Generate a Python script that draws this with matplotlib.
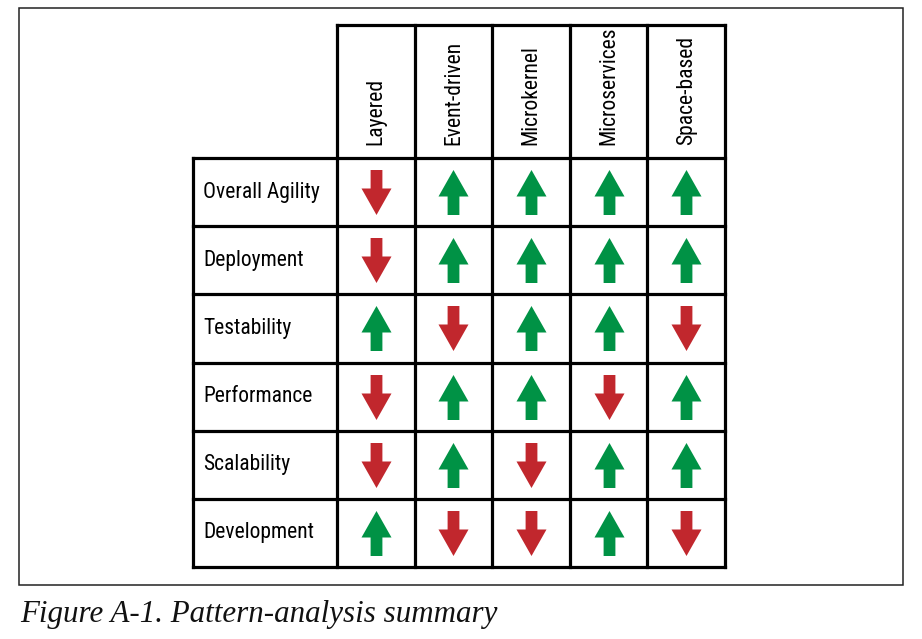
import matplotlib
matplotlib.use("Agg")
import matplotlib.pyplot as plt
from matplotlib import font_manager as fm
from matplotlib.path import Path
from matplotlib.patches import Rectangle

# ---------------- data ----------------
patterns = ["Layered", "Event-driven", "Microkernel", "Microservices", "Space-based"]
criteria = ["Overall Agility", "Deployment", "Testability", "Performance",
            "Scalability", "Development"]
# +1 = up (good), -1 = down (poor)
ratings = [
    [-1, 1, 1, 1, 1],
    [-1, 1, 1, 1, 1],
    [1, -1, 1, 1, -1],
    [-1, 1, 1, -1, 1],
    [-1, 1, -1, 1, 1],
    [1, -1, -1, 1, -1],
]
caption = "Figure A-1. Pattern-analysis summary"

# ---------------- fonts ----------------
available = {f.name for f in fm.fontManager.ttflist}
narrow = "DejaVu Sans"
for cand in ["Liberation Sans Narrow", "DejaVu Sans Condensed", "Roboto Condensed",
             "Open Sans Condensed", "Noto Sans"]:
    if cand in available:
        narrow = cand
        break
serif = "Liberation Serif" if "Liberation Serif" in available else "DejaVu Serif"

W, H, DPI = 922, 639, 100
fig = plt.figure(figsize=(W / DPI, H / DPI), dpi=DPI)
fig.patch.set_facecolor("white")

# outer frame (figure pixel coords)
frame = Rectangle((19 / W, 1 - 585 / H), (903 - 19) / W, (585 - 8) / H,
                  transform=fig.transFigure, fill=False, edgecolor="#222222",
                  linewidth=1.1)
fig.patches.append(frame)

# caption
fig.text(20 / W, 1 - 622 / H, caption, fontsize=22.3, family=serif,
         style="italic", va="baseline", ha="left", color="#111111")

# table body axes: x in columns, y in rows
left, right, top, bottom = 337, 725, 158, 567
ax = fig.add_axes([left / W, 1 - bottom / H, (right - left) / W, (bottom - top) / H])
ncol, nrow = len(patterns), len(criteria)
ax.set_xlim(0, ncol)
ax.set_ylim(nrow, 0)
ax.axis("off")

col_w = (right - left) / ncol
row_h = (bottom - top) / nrow
x_lab = -(left - 193) / col_w
y_head = -(top - 25) / row_h

lw = 2.3
kw = dict(color="black", linewidth=lw, clip_on=False, solid_capstyle="projecting")
# vertical lines of the pattern columns (incl. header)
for j in range(ncol + 1):
    ax.plot([j, j], [y_head, nrow], **kw)
# header top
ax.plot([0, ncol], [y_head, y_head], **kw)
# horizontal row lines incl. label column
for i in range(nrow + 1):
    ax.plot([x_lab, ncol], [i, i], **kw)
# label column left edge
ax.plot([x_lab, x_lab], [0, nrow], **kw)

fs = 15.5
# header texts
for j, p in enumerate(patterns):
    ax.text(j + 0.5, -13 / row_h, p, rotation=90, ha="center", va="bottom",
            fontsize=fs, family=narrow, color="black", clip_on=False)

# row labels
for i, c in enumerate(criteria):
    ax.text(x_lab + 10 / col_w, i + 0.5, c, ha="left", va="center",
            fontsize=fs, family=narrow, color="black", clip_on=False)

# arrow markers (shape in pixels, normalized by matplotlib)
tip, head_base, bot = 22.5, -4.0, -22.5
hw, sw = 15.0, 5.9
up_verts = [(0, tip), (hw, head_base), (sw, head_base), (sw, bot), (-sw, bot),
            (-sw, head_base), (-hw, head_base), (0, tip)]
up_path = Path(up_verts, closed=True)
down_path = Path([(x, -y) for x, y in up_verts], closed=True)
msize = 45 * 72 / DPI

up_x, up_y, dn_x, dn_y = [], [], [], []
for i, row in enumerate(ratings):
    for j, v in enumerate(row):
        if v > 0:
            up_x.append(j + 0.5); up_y.append(i + 0.5)
        else:
            dn_x.append(j + 0.5); dn_y.append(i + 0.5)

ax.plot(up_x, up_y, linestyle="none", marker=up_path, markersize=msize,
        markerfacecolor="#009245", markeredgewidth=0)
ax.plot(dn_x, dn_y, linestyle="none", marker=down_path, markersize=msize,
        markerfacecolor="#C1272D", markeredgewidth=0)

fig.savefig("out.png", dpi=DPI, facecolor="white")
